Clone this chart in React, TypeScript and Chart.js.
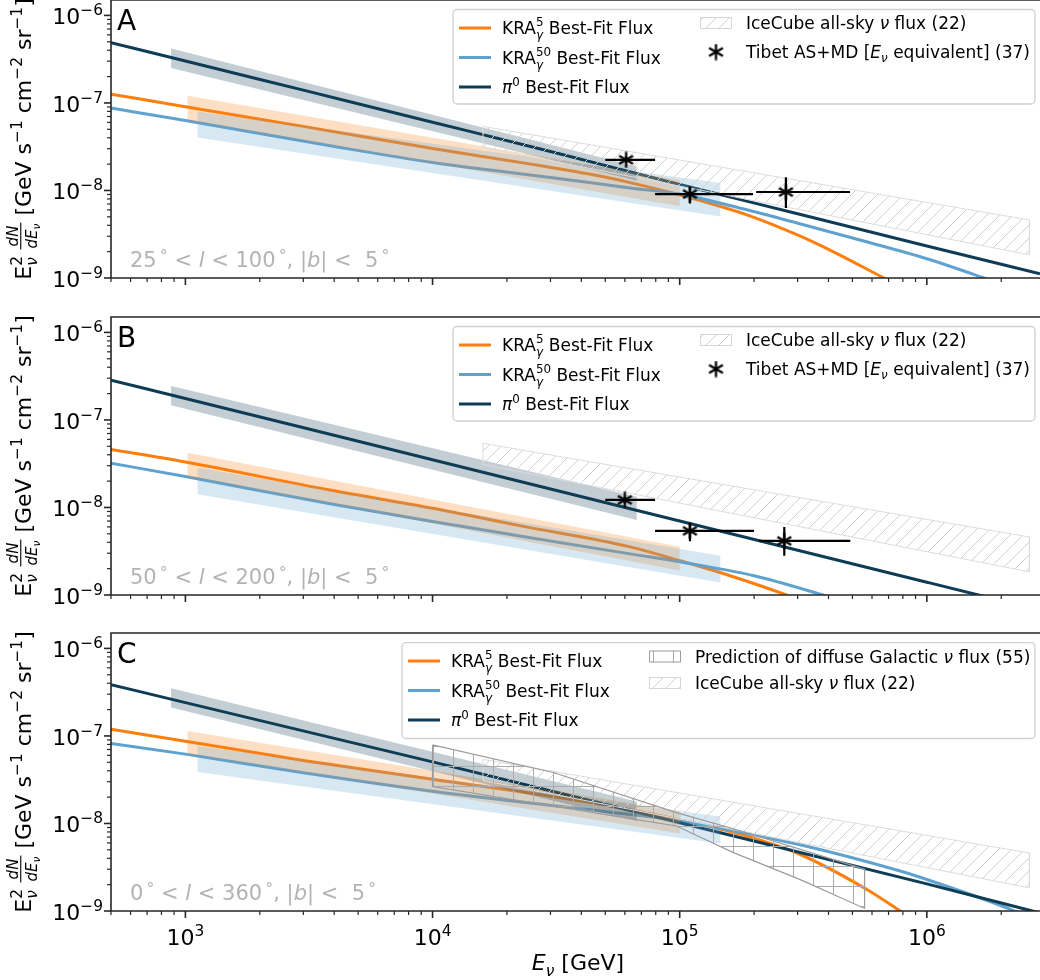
import React, { useEffect, useRef } from 'react';
import { Chart, registerables } from 'chart.js';

Chart.register(...registerables);

type Run = { t: string; s?: number; dy?: number; it?: boolean; stack?: boolean };

// ---------------- axes ----------------
const X_MIN = 500;
const X_MAX = 2.87e6;
const Y_MIN = 1e-9;
const Y_MAX = 1.5e-6;
const X_TICKS = [1e3, 1e4, 1e5, 1e6];
const X_TICK_EXP = ['3', '4', '5', '6'];
const Y_TICKS = [1e-9, 1e-8, 1e-7, 1e-6];
const Y_TICK_EXP = ['\u22129', '\u22128', '\u22127', '\u22126'];
const X_DECADES = [1e2, 1e3, 1e4, 1e5, 1e6];
const Y_DECADES = [1e-9, 1e-8, 1e-7, 1e-6];
const MINOR_MULT = [2, 3, 4, 5, 6, 7, 8, 9];

// ---------------- Panel A data (E in GeV, E^2 dN/dE) ----------------
const A_PI_E = [500, 1e3, 3e3, 1e4, 3e4, 1e5, 3e5, 1e6, 2.87e6];
const A_PI_F = [4.88e-7, 3.02e-7, 1.40e-7, 6.03e-8, 2.79e-8, 1.17e-8, 5.43e-9, 2.32e-9, 1.12e-9];
const A_KRA5_E = [500, 1e3, 3e3, 1e4, 2.5e4, 4.8e4, 6.3e4, 1e5, 1.92e5, 3.06e5, 4.17e5, 6.7e5, 8e5];
const A_KRA5_F = [1.26e-7, 9.06e-8, 5.4e-8, 3.02e-8, 2.0e-8, 1.45e-8, 1.23e-8, 8.9e-9, 5.13e-9, 3.02e-9, 2.0e-9, 1.0e-9, 7.7e-10];
const A_KRA50_E = [500, 1e3, 3.85e3, 1e4, 3e4, 6.3e4, 1e5, 1.8e5, 3.06e5, 5.6e5, 1e6, 1.8e6, 2.87e6];
const A_KRA50_F = [8.75e-8, 6.3e-8, 3.24e-8, 2.09e-8, 1.41e-8, 1.07e-8, 9.1e-9, 6.17e-9, 4.17e-9, 2.63e-9, 1.66e-9, 9.5e-10, 6.0e-10];
const A_KRA5_BAND_E = [1.02e3, 1e5];
const A_KRA5_BAND_HI = [1.21e-7, 1.32e-8];
const A_KRA5_BAND_LO = [6.3e-8, 6.6e-9];
const A_KRA50_BAND_E = [1.12e3, 1.46e5];
const A_KRA50_BAND_HI = [8.0e-8, 1.22e-8];
const A_KRA50_BAND_LO = [4.04e-8, 5.05e-9];
const A_PI_BAND_E = [875, 6.7e4];
const A_PI_BAND_HI = [4.2e-7, 1.88e-8];
const A_PI_BAND_LO = [2.5e-7, 1.3e-8];
const A_TIBET_E = [6.07e4, 1.1e5, 2.69e5];
const A_TIBET_F = [2.24e-8, 9.1e-9, 9.6e-9];
const A_TIBET_ELO = [5.0e4, 7.95e4, 2.04e5];
const A_TIBET_EHI = [7.95e4, 1.98e5, 4.89e5];
const A_TIBET_FLO = [2.05e-8, 7.1e-9, 6.3e-9];
const A_TIBET_FHI = [2.45e-8, 1.1e-8, 1.42e-8];

// ---------------- Panel B data ----------------
const B_PI_E = [500, 1e3, 1e4, 1e5, 1e6, 2.87e6];
const B_PI_F = [2.85e-7, 1.76e-7, 3.51e-8, 7.0e-9, 1.4e-9, 6.7e-10];
const B_KRA5_E = [500, 1e3, 3.85e3, 1e4, 2.25e4, 6.3e4, 1e5, 1.6e5, 2.7e5, 3.5e5];
const B_KRA5_F = [4.61e-8, 3.31e-8, 1.58e-8, 9.8e-9, 6.2e-9, 3.55e-9, 2.47e-9, 1.66e-9, 1.0e-9, 7.4e-10];
const B_KRA50_E = [500, 1e3, 3.85e3, 1e4, 2.25e4, 6.3e4, 1e5, 2e5, 3.8e5, 5e5];
const B_KRA50_F = [3.2e-8, 2.26e-8, 1.1e-8, 6.9e-9, 4.73e-9, 2.95e-9, 2.4e-9, 1.66e-9, 1.0e-9, 7.9e-10];
const B_KRA5_BAND_E = [1.02e3, 1e5];
const B_KRA5_BAND_HI = [4.23e-8, 3.57e-9];
const B_KRA5_BAND_LO = [2.25e-8, 1.9e-9];
const B_KRA50_BAND_E = [1.12e3, 1.46e5];
const B_KRA50_BAND_HI = [2.84e-8, 2.8e-9];
const B_KRA50_BAND_LO = [1.42e-8, 1.39e-9];
const B_PI_BAND_E = [875, 6.7e4];
const B_PI_BAND_HI = [2.44e-7, 1.33e-8];
const B_PI_BAND_LO = [1.47e-7, 7.2e-9];
const B_TIBET_E = [6.0e4, 1.1e5, 2.65e5];
const B_TIBET_F = [1.22e-8, 5.4e-9, 4.15e-9];
const B_TIBET_ELO = [5.0e4, 7.95e4, 2.1e5];
const B_TIBET_EHI = [7.95e4, 2.0e5, 4.9e5];
const B_TIBET_FLO = [1.12e-8, 4.1e-9, 2.8e-9];
const B_TIBET_FHI = [1.33e-8, 6.6e-9, 6.0e-9];

// ---------------- Panel C data ----------------
const C_PI_E = [500, 1e3, 1e4, 1e5, 1e6, 2.87e6];
const C_PI_F = [3.86e-7, 2.4e-7, 5.05e-8, 1.02e-8, 2.04e-9, 9.5e-10];
const C_KRA5_E = [500, 1e3, 3e3, 1e4, 4.75e4, 1e5, 1.8e5, 3.06e5, 5.7e5, 7.8e5, 1e6];
const C_KRA5_F = [1.19e-7, 8.7e-8, 5.25e-8, 3.2e-8, 1.66e-8, 1.1e-8, 7.4e-9, 4.45e-9, 1.77e-9, 1.0e-9, 6.3e-10];
const C_KRA50_E = [500, 1e3, 3e3, 1e4, 4.75e4, 1e5, 3.16e5, 7.8e5, 1e6, 2.17e6, 2.87e6];
const C_KRA50_F = [8.2e-8, 6.2e-8, 3.8e-8, 2.34e-8, 1.39e-8, 1.07e-8, 5.6e-9, 2.86e-9, 2.29e-9, 1.05e-9, 7.4e-10];
const C_KRA5_BAND_E = [1.02e3, 1e5];
const C_KRA5_BAND_HI = [1.14e-7, 1.39e-8];
const C_KRA5_BAND_LO = [6.2e-8, 7.7e-9];
const C_KRA50_BAND_E = [1.12e3, 1.46e5];
const C_KRA50_BAND_HI = [7.7e-8, 1.2e-8];
const C_KRA50_BAND_LO = [3.88e-8, 5.9e-9];
const C_PI_BAND_E = [875, 6.7e4];
const C_PI_BAND_HI = [3.5e-7, 1.78e-8];
const C_PI_BAND_LO = [2.11e-7, 1.07e-8];
const PRED_TOP_E = [1.0e4, 3.08e4, 9.7e4, 1.65e5, 3.06e5, 5.6e5];
const PRED_TOP_F = [7.9e-8, 3.82e-8, 1.33e-8, 8.7e-9, 5.1e-9, 3.0e-9];
const PRED_BOT_E = [1.0e4, 6.5e4, 9.7e4, 1.65e5, 3.06e5, 5.6e5];
const PRED_BOT_F = [2.64e-8, 1.12e-8, 9.35e-9, 4.65e-9, 2.3e-9, 1.07e-9];

// ---------------- IceCube all-sky band (all panels) ----------------
const ICECUBE_E = [1.6e4, 2.6e6];
const ICECUBE_HI = [5.4e-8, 4.6e-9];
const ICECUBE_LO = [3.1e-8, 1.84e-9];

// ---------------- texts ----------------
const KRA5_RUNS: Run[] = [{ t: 'KRA' }, { t: '5', s: 0.7, dy: -0.45, stack: true }, { t: '\u03b3', s: 0.7, dy: 0.3, it: true }, { t: ' Best-Fit Flux' }];
const KRA50_RUNS: Run[] = [{ t: 'KRA' }, { t: '50', s: 0.7, dy: -0.45, stack: true }, { t: '\u03b3', s: 0.7, dy: 0.3, it: true }, { t: ' Best-Fit Flux' }];
const PI_RUNS: Run[] = [{ t: '\u03c0', it: true }, { t: '0', s: 0.7, dy: -0.42 }, { t: ' Best-Fit Flux' }];
const ICECUBE_RUNS: Run[] = [{ t: 'IceCube all-sky ' }, { t: '\u03bd', it: true }, { t: ' flux (22)' }];
const TIBET_RUNS: Run[] = [{ t: 'Tibet AS+MD [' }, { t: 'E', it: true }, { t: '\u03bd', s: 0.7, dy: 0.25, it: true }, { t: ' equivalent] (37)' }];
const PRED_RUNS: Run[] = [{ t: 'Prediction of diffuse Galactic ' }, { t: '\u03bd', it: true }, { t: ' flux (55)' }];
const regionRuns = (lo: string, hi: string): Run[] => [
  { t: lo }, { t: '\u2009\u00b0', s: 0.75, dy: -0.3 }, { t: ' < ' }, { t: 'l', it: true }, { t: ' < ' + hi },
  { t: '\u2009\u00b0', s: 0.75, dy: -0.3 }, { t: ', |' }, { t: 'b', it: true }, { t: '| <  5' }, { t: '\u2009\u00b0', s: 0.75, dy: -0.3 },
];

const ORANGE = '#ff7f0e';
const BLUE = '#5fa2d0';
const DARK = '#0e3c55';
const ORANGE_BAND = 'rgba(255,127,14,0.25)';
const BLUE_BAND = 'rgba(95,162,208,0.25)';
const DARK_BAND = 'rgba(14,60,85,0.25)';

// ---------------- geometry ----------------
const CANVAS_TOPS = [-20, 297, 613];
const CH = 366;
const PT = 20;
const PH = 278;
const PL = 111;

type LegEntry = { kind: 'line' | 'hatch' | 'grid' | 'marker'; color?: string; hx: number; tx: number; y: number; runs: Run[] };
type LegendDef = { box: [number, number, number, number]; entries: LegEntry[] };

const LEGEND_AB: LegendDef = {
  box: [453, 9.5, 1035, 104],
  entries: [
    { kind: 'line', color: ORANGE, hx: 459, tx: 502, y: 28, runs: KRA5_RUNS },
    { kind: 'line', color: BLUE, hx: 459, tx: 502, y: 57.5, runs: KRA50_RUNS },
    { kind: 'line', color: DARK, hx: 459, tx: 502, y: 87, runs: PI_RUNS },
    { kind: 'hatch', hx: 700, tx: 746, y: 23, runs: ICECUBE_RUNS },
    { kind: 'marker', hx: 700, tx: 746, y: 52, runs: TIBET_RUNS },
  ],
};
const LEGEND_C: LegendDef = {
  box: [402, 9.6, 1035, 105.5],
  entries: [
    { kind: 'line', color: ORANGE, hx: 408, tx: 451, y: 28, runs: KRA5_RUNS },
    { kind: 'line', color: BLUE, hx: 408, tx: 451, y: 57.5, runs: KRA50_RUNS },
    { kind: 'line', color: DARK, hx: 408, tx: 451, y: 87, runs: PI_RUNS },
    { kind: 'grid', hx: 649, tx: 695, y: 23.5, runs: PRED_RUNS },
    { kind: 'hatch', hx: 649, tx: 695, y: 50, runs: ICECUBE_RUNS },
  ],
};

type Tibet = { E: number[]; F: number[]; Elo: number[]; Ehi: number[]; Flo: number[]; Fhi: number[] };
type PanelDef = {
  letter: string;
  region: Run[];
  pi: number[][]; k5: number[][]; k50: number[][];
  piBand: number[][]; k5Band: number[][]; k50Band: number[][];
  tibet: Tibet | null;
  pred: boolean;
  legend: LegendDef;
};

const PANELS: PanelDef[] = [
  {
    letter: 'A', region: regionRuns('25', '100'),
    pi: [A_PI_E, A_PI_F], k5: [A_KRA5_E, A_KRA5_F], k50: [A_KRA50_E, A_KRA50_F],
    piBand: [A_PI_BAND_E, A_PI_BAND_HI, A_PI_BAND_LO], k5Band: [A_KRA5_BAND_E, A_KRA5_BAND_HI, A_KRA5_BAND_LO], k50Band: [A_KRA50_BAND_E, A_KRA50_BAND_HI, A_KRA50_BAND_LO],
    tibet: { E: A_TIBET_E, F: A_TIBET_F, Elo: A_TIBET_ELO, Ehi: A_TIBET_EHI, Flo: A_TIBET_FLO, Fhi: A_TIBET_FHI },
    pred: false, legend: LEGEND_AB,
  },
  {
    letter: 'B', region: regionRuns('50', '200'),
    pi: [B_PI_E, B_PI_F], k5: [B_KRA5_E, B_KRA5_F], k50: [B_KRA50_E, B_KRA50_F],
    piBand: [B_PI_BAND_E, B_PI_BAND_HI, B_PI_BAND_LO], k5Band: [B_KRA5_BAND_E, B_KRA5_BAND_HI, B_KRA5_BAND_LO], k50Band: [B_KRA50_BAND_E, B_KRA50_BAND_HI, B_KRA50_BAND_LO],
    tibet: { E: B_TIBET_E, F: B_TIBET_F, Elo: B_TIBET_ELO, Ehi: B_TIBET_EHI, Flo: B_TIBET_FLO, Fhi: B_TIBET_FHI },
    pred: false, legend: LEGEND_AB,
  },
  {
    letter: 'C', region: regionRuns('0', '360'),
    pi: [C_PI_E, C_PI_F], k5: [C_KRA5_E, C_KRA5_F], k50: [C_KRA50_E, C_KRA50_F],
    piBand: [C_PI_BAND_E, C_PI_BAND_HI, C_PI_BAND_LO], k5Band: [C_KRA5_BAND_E, C_KRA5_BAND_HI, C_KRA5_BAND_LO], k50Band: [C_KRA50_BAND_E, C_KRA50_BAND_HI, C_KRA50_BAND_LO],
    tibet: null, pred: true, legend: LEGEND_C,
  },
];

// ---------------- helpers ----------------
const fnt = (size: number, it?: boolean) => `${it ? 'italic ' : ''}${size}px "DejaVu Sans", sans-serif`;

function layoutRuns(ctx: CanvasRenderingContext2D, runs: Run[], base: number) {
  const xs: number[] = [];
  let w = 0;
  let pend = 0;
  for (const r of runs) {
    ctx.font = fnt(base * (r.s ?? 1), r.it);
    const rw = ctx.measureText(r.t).width;
    xs.push(w);
    if (r.stack) pend = rw;
    else { w += Math.max(rw, pend); pend = 0; }
  }
  return { xs, w };
}

function drawRuns(ctx: CanvasRenderingContext2D, runs: Run[], x: number, y: number, base: number, align: 'left' | 'right' | 'center' = 'left', color = '#000') {
  const { xs, w } = layoutRuns(ctx, runs, base);
  const x0 = align === 'left' ? x : align === 'right' ? x - w : x - w / 2;
  ctx.fillStyle = color;
  ctx.textBaseline = 'alphabetic';
  ctx.textAlign = 'left';
  runs.forEach((r, i) => {
    ctx.font = fnt(base * (r.s ?? 1), r.it);
    ctx.fillText(r.t, x0 + xs[i], y + (r.dy ?? 0) * base);
  });
  return w;
}

function pts(E: number[], F: number[]) {
  return E.map((e, i) => ({ x: e, y: F[i] }));
}
function bandPoly(E: number[], HI: number[], LO: number[]) {
  const up = pts(E, HI);
  const lo = pts(E, LO).reverse();
  return [...up, ...lo, up[0]];
}
function edgePoly(TE: number[], TF: number[], BE: number[], BF: number[]) {
  const up = pts(TE, TF);
  const lo = pts(BE, BF).reverse();
  return [...up, ...lo, up[0]];
}

function makeHatch(ctx: CanvasRenderingContext2D) {
  const s = 13;
  const c = document.createElement('canvas');
  c.width = s; c.height = s;
  const g = c.getContext('2d')!;
  g.strokeStyle = '#d0d0d0';
  g.lineWidth = 1;
  g.beginPath();
  g.moveTo(0, s); g.lineTo(s, 0);
  g.moveTo(-2, 2); g.lineTo(2, -2);
  g.moveTo(s - 2, s + 2); g.lineTo(s + 2, s - 2);
  g.stroke();
  return ctx.createPattern(c, 'repeat')!;
}
function makeGrid(ctx: CanvasRenderingContext2D) {
  const s = 20;
  const c = document.createElement('canvas');
  c.width = s; c.height = s;
  const g = c.getContext('2d')!;
  g.strokeStyle = '#ababab';
  g.lineWidth = 1;
  g.beginPath();
  g.moveTo(13.5, 0); g.lineTo(13.5, s);
  g.moveTo(0, 13.5); g.lineTo(s, 13.5);
  g.stroke();
  return ctx.createPattern(c, 'repeat')!;
}
function makeAsterisk() {
  const size = 17;
  const c = document.createElement('canvas');
  c.width = size; c.height = size;
  const g = c.getContext('2d')!;
  g.strokeStyle = '#000';
  g.lineWidth = 2.3;
  g.translate(size / 2, size / 2);
  const r = size / 2 - 0.5;
  for (const a of [90, 30, -30]) {
    const t = (a * Math.PI) / 180;
    g.beginPath();
    g.moveTo(-r * Math.cos(t), -r * Math.sin(t));
    g.lineTo(r * Math.cos(t), r * Math.sin(t));
    g.stroke();
  }
  return c;
}

function drawYLabel(ctx: CanvasRenderingContext2D, cx: number, cy: number) {
  const B = 22;
  const S = 15;
  ctx.save();
  ctx.translate(cx, cy);
  ctx.rotate(-Math.PI / 2);
  const head: Run[] = [{ t: 'E' }, { t: '2', s: 0.7, dy: -0.42, stack: true }, { t: '\u03bd', s: 0.7, dy: 0.25, it: true }];
  const num: Run[] = [{ t: 'dN', it: true }];
  const den: Run[] = [{ t: 'dE', it: true }, { t: '\u03bd', s: 0.7, dy: 0.25, it: true }];
  const tail: Run[] = [
    { t: ' [GeV s' }, { t: '\u22121', s: 0.7, dy: -0.42 }, { t: ' cm' }, { t: '\u22122', s: 0.7, dy: -0.42 },
    { t: ' sr' }, { t: '\u22121', s: 0.7, dy: -0.42 }, { t: ']' },
  ];
  const wHead = layoutRuns(ctx, head, B).w;
  const wNum = layoutRuns(ctx, num, S).w;
  const wDen = layoutRuns(ctx, den, S).w;
  const wFrac = Math.max(wNum, wDen) + 2;
  const wTail = layoutRuns(ctx, tail, B).w;
  const gap = 0.3 * B;
  const W = wHead + gap + wFrac + wTail;
  let x = -W / 2;
  drawRuns(ctx, head, x, 0, B);
  x += wHead + gap;
  drawRuns(ctx, num, x + (wFrac - wNum) / 2, -13.5, S);
  drawRuns(ctx, den, x + (wFrac - wDen) / 2, 5.5, S);
  ctx.fillStyle = '#000';
  ctx.fillRect(x, -10.8, wFrac, 1.1);
  x += wFrac;
  drawRuns(ctx, tail, x, 0, B);
  ctx.restore();
}

function buildChart(canvas: HTMLCanvasElement, p: PanelDef, bottomPanel: boolean) {
  const ctx = canvas.getContext('2d')!;
  const hatch = makeHatch(ctx);
  const grid = makeGrid(ctx);
  const star = makeAsterisk();

  const lineDs = (E: number[], F: number[], color: string, order: number) => ({
    data: pts(E, F), borderColor: color, borderWidth: 3, pointRadius: 0, fill: false,
    cubicInterpolationMode: 'monotone', order, borderCapStyle: 'butt',
  });
  const bandDs = (b: number[][], color: string, order: number) => ({
    data: bandPoly(b[0], b[1], b[2]), borderWidth: 0, borderColor: 'rgba(0,0,0,0)', backgroundColor: color,
    pointRadius: 0, fill: 'shape', order, tension: 0,
  });

  const datasets: any[] = [
    lineDs(p.k5[0], p.k5[1], ORANGE, 20),
    lineDs(p.k50[0], p.k50[1], BLUE, 19),
    lineDs(p.pi[0], p.pi[1], DARK, 18),
    bandDs(p.k5Band, ORANGE_BAND, 15),
    bandDs(p.k50Band, BLUE_BAND, 14),
    bandDs(p.piBand, DARK_BAND, 13),
    {
      data: bandPoly(ICECUBE_E, ICECUBE_HI, ICECUBE_LO), borderWidth: 1, borderColor: '#dcdcdc', backgroundColor: hatch,
      pointRadius: 0, fill: 'shape', order: 10,
    },
  ];
  if (p.pred) {
    datasets.push({
      data: edgePoly(PRED_TOP_E, PRED_TOP_F, PRED_BOT_E, PRED_BOT_F), borderWidth: 1.2, borderColor: '#9c9c9c', backgroundColor: grid,
      pointRadius: 0, fill: 'shape', order: 9,
    });
  }
  if (p.tibet) {
    const t = p.tibet;
    const hBars: any[] = [];
    const vBars: any[] = [];
    t.E.forEach((e, i) => {
      hBars.push({ x: t.Elo[i], y: t.F[i] }, { x: t.Ehi[i], y: t.F[i] }, { x: t.Ehi[i], y: null });
      vBars.push({ x: e, y: t.Flo[i] }, { x: e, y: t.Fhi[i] }, { x: e, y: null });
    });
    datasets.push(
      { data: hBars, borderColor: '#000', borderWidth: 2.2, pointRadius: 0, fill: false, spanGaps: false, order: 3 },
      { data: vBars, borderColor: '#000', borderWidth: 2.2, pointRadius: 0, fill: false, spanGaps: false, order: 2 },
      { data: pts(t.E, t.F), showLine: false, pointStyle: star, pointRadius: 7, fill: false, order: 1 },
    );
  }

  const decor = {
    id: 'decor' + p.letter,
    afterDatasetsDraw(chart: any) {
      const c: CanvasRenderingContext2D = chart.ctx;
      const { left, right, top, bottom } = chart.chartArea;
      const xs = chart.scales.x;
      const ys = chart.scales.y;
      c.save();
      // spines
      c.strokeStyle = '#262626';
      c.lineWidth = 1.6;
      c.beginPath();
      c.moveTo(left, top); c.lineTo(right + 4, top);
      c.moveTo(left, top - 0.8); c.lineTo(left, bottom + 0.8);
      c.moveTo(left - 0.8, bottom); c.lineTo(right + 4, bottom);
      c.stroke();
      // y ticks
      for (const d of Y_DECADES) {
        for (const k of [1, ...MINOR_MULT]) {
          const v = k * d;
          if (v < Y_MIN * 0.999 || v > Y_MAX * 1.001) continue;
          const py = ys.getPixelForValue(v);
          c.lineWidth = k === 1 ? 1.6 : 1.2;
          c.beginPath(); c.moveTo(left, py); c.lineTo(left - (k === 1 ? 7 : 4), py); c.stroke();
        }
      }
      // x ticks
      for (const d of X_DECADES) {
        for (const k of [1, ...MINOR_MULT]) {
          const v = k * d;
          if (v < X_MIN * 0.999 || v > X_MAX) continue;
          const px = xs.getPixelForValue(v);
          c.lineWidth = k === 1 ? 1.6 : 1.2;
          c.beginPath(); c.moveTo(px, bottom); c.lineTo(px, bottom + (k === 1 ? 7 : 4)); c.stroke();
        }
      }
      // y tick labels
      Y_TICKS.forEach((v, i) => {
        const py = ys.getPixelForValue(v);
        drawRuns(c, [{ t: '10' }, { t: Y_TICK_EXP[i], s: 0.7, dy: -0.42 }], left - 8, py + 9, 22, 'right');
      });
      if (bottomPanel) {
        X_TICKS.forEach((v, i) => {
          const px = xs.getPixelForValue(v);
          drawRuns(c, [{ t: '10' }, { t: X_TICK_EXP[i], s: 0.7, dy: -0.42 }], px, bottom + 34, 22, 'center');
        });
        drawRuns(c, [{ t: 'E', it: true }, { t: '\u03bd', s: 0.7, dy: 0.25, it: true }, { t: ' [GeV]' }], 578, bottom + 59, 22, 'center');
      }
      drawYLabel(c, 31, (top + bottom) / 2);
      // panel letter and region
      drawRuns(c, [{ t: p.letter }], left + 6, top + 29.5, 28);
      drawRuns(c, p.region, left + 19, top + 267, 21, 'left', '#b3b3b3');
      // legend
      const L = p.legend;
      const [bx0, by0, bx1, by1] = L.box;
      const r = 4;
      c.beginPath();
      c.moveTo(bx0 + r, top + by0);
      c.arcTo(bx1, top + by0, bx1, top + by1, r);
      c.arcTo(bx1, top + by1, bx0, top + by1, r);
      c.arcTo(bx0, top + by1, bx0, top + by0, r);
      c.arcTo(bx0, top + by0, bx1, top + by0, r);
      c.closePath();
      c.fillStyle = 'rgba(255,255,255,0.8)';
      c.fill();
      c.strokeStyle = '#d0d0d0';
      c.lineWidth = 1.3;
      c.stroke();
      for (const e of L.entries) {
        const yy = top + e.y;
        if (e.kind === 'line') {
          c.strokeStyle = e.color!;
          c.lineWidth = 3;
          c.beginPath(); c.moveTo(e.hx, yy); c.lineTo(e.hx + 32, yy); c.stroke();
        } else if (e.kind === 'hatch' || e.kind === 'grid') {
          c.fillStyle = e.kind === 'hatch' ? hatch : grid;
          c.fillRect(e.hx, yy - 6, 32, 12);
          c.strokeStyle = e.kind === 'hatch' ? '#d6d6d6' : '#9c9c9c';
          c.lineWidth = 1;
          c.strokeRect(e.hx + 0.5, yy - 5.5, 31, 11);
        } else {
          c.drawImage(star, e.hx + 16 - star.width / 2, yy - star.height / 2);
        }
        drawRuns(c, e.runs, e.tx, yy + 6, 17);
      }
      c.restore();
    },
  };

  return new Chart(canvas, {
    type: 'line',
    data: { datasets },
    options: {
      responsive: false,
      animation: false,
      devicePixelRatio: 1,
      events: [],
      layout: { autoPadding: false, padding: { left: PL, top: PT, right: 0, bottom: CH - PT - PH } },
      scales: {
        x: { type: 'logarithmic', min: X_MIN, max: X_MAX, display: false },
        y: { type: 'logarithmic', min: Y_MIN, max: Y_MAX, display: false },
      },
      plugins: { legend: { display: false }, tooltip: { enabled: false } },
    } as any,
    plugins: [decor],
  });
}

export default function App() {
  const r0 = useRef<HTMLCanvasElement>(null);
  const r1 = useRef<HTMLCanvasElement>(null);
  const r2 = useRef<HTMLCanvasElement>(null);
  const refs = [r0, r1, r2];
  useEffect(() => {
    const charts = PANELS.map((p, i) => buildChart(refs[i].current!, p, i === PANELS.length - 1));
    return () => charts.forEach((c) => c.destroy());
  }, []);
  return (
    <div style={{ position: 'fixed', left: 0, top: 0, width: 1040, height: 980, overflow: 'hidden', background: '#fff' }}>
      {PANELS.map((p, i) => (
        <canvas
          key={p.letter}
          ref={refs[i]}
          width={1040}
          height={CH}
          style={{ position: 'absolute', left: 0, top: CANVAS_TOPS[i], width: 1040, height: CH }}
        />
      ))}
    </div>
  );
}
